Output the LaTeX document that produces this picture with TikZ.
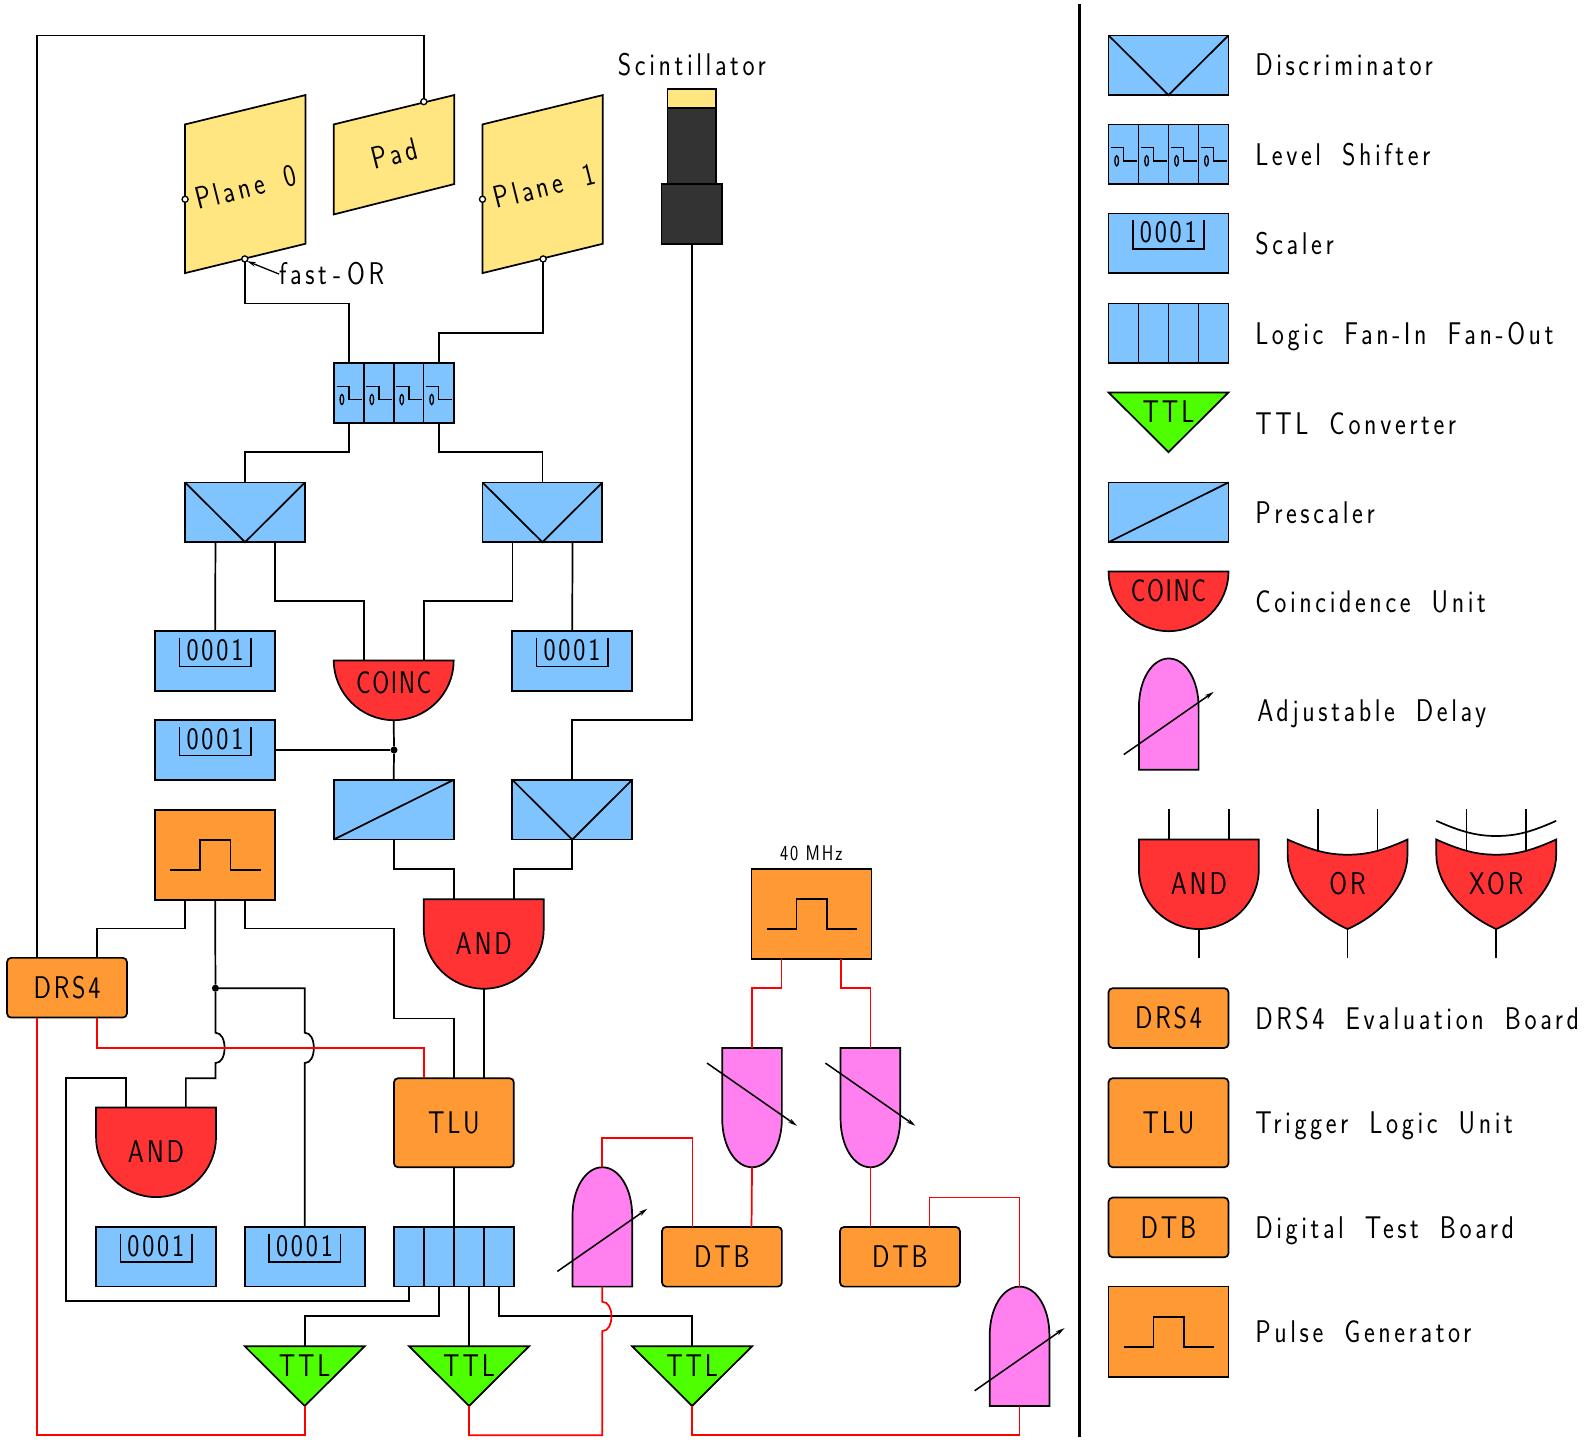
\documentclass[tikz,border=0pt]{standalone}
\usepackage{fontspec}
\usetikzlibrary{arrows.meta}
\newfontfamily\cadfont{Latin Modern Sans}[FakeStretch=0.82,LetterSpace=9]
\newfontfamily\cadlegfont{Latin Modern Sans}[FakeStretch=0.82,LetterSpace=11.5,WordSpace=1.8]
\newfontfamily\cadcoinc{Latin Modern Sans}[FakeStretch=0.78,LetterSpace=5]
\definecolor{mblue}{HTML}{80C4FF}
\definecolor{myellow}{HTML}{FFE680}
\definecolor{mred}{HTML}{FF3333}
\definecolor{morange}{HTML}{FF9933}
\definecolor{mpink}{HTML}{FF80EE}
\definecolor{mgreen}{HTML}{4DFF00}
\definecolor{mdark}{HTML}{333333}
\definecolor{wirered}{HTML}{FF0000}
\tikzset{
  sig/.style={line width=1.7pt,draw=black,line join=miter},
  rsig/.style={line width=1.7pt,draw=wirered,line join=miter},
  part/.style 2 args={draw=black,line width=1.7pt,inner sep=0pt,outer sep=0pt,anchor=north west,minimum width=#1pt,minimum height=#2pt},
  bluebox/.style 2 args={part={#1}{#2},fill=mblue},
  orangebox/.style 2 args={part={#1}{#2},fill=morange,font=\cad,text height=21pt,text depth=0pt},
  roundbox/.style 2 args={orangebox={#1}{#2},rounded corners=4pt},
  ghost/.style 2 args={part={#1}{#2},draw=none,font=\cad,text height=21pt,text depth=0pt},
  lbl/.style={inner sep=0pt,outer sep=0pt,font=\cad,text height=21pt,text depth=0pt},
  leg/.style={lbl,anchor=west,font=\cadleg},
  smalllbl/.style={inner sep=0pt,outer sep=0pt,font=\cadsmall},
  port/.style={circle,draw=black,fill=white,line width=1.3pt,inner sep=0pt,minimum size=6pt,outer sep=0pt},
  dot/.style={circle,fill=black,inner sep=0pt,minimum size=7pt,outer sep=0pt},
  adj/.style={line width=1.5pt,-{Stealth[length=9pt,width=4.5pt]}},
}
\newcommand\cad{\cadfont\fontsize{31}{31}\selectfont}
\newcommand\cadleg{\cadlegfont\fontsize{31}{31}\selectfont}
\newcommand\cadco{\cadcoinc\fontsize{31}{31}\selectfont}
\newcommand\cadsmall{\cadfont\fontsize{21}{21}\selectfont}
\newcommand\Disc[3]{\node[bluebox={118.5}{59}] (#1) at (#2,#3) {};
  \draw[sig] (#1.north west) -- (#1.south) -- (#1.north east);}
\newcommand\Presc[3]{\node[bluebox={118.5}{59}] (#1) at (#2,#3) {};
  \draw[sig] (#1.south west) -- (#1.north east);}
\newcommand\Cells[3]{\node[bluebox={118.5}{59}] (#1) at (#2,#3) {};
  \foreach \k in {1,2,3} {\draw[sig] (#2+\k*29.6,#3) -- (#2+\k*29.6,#3+59);}}
\newcommand\Shifter[3]{\Cells{#1}{#2}{#3}
  \foreach \k in {0,1,2,3} {\begin{scope}[shift={(#2+\k*29.6,#3)}]
    \draw[line width=1.4pt] (2.7,23) -- (15,23) -- (15,36) -- (28,36);
    \draw[line width=1.3pt] (8,36) ellipse (1.8 and 5);
  \end{scope}}}
\newcommand\Scaler[3]{\node[bluebox={118.5}{59}] (#1) at (#2,#3) {};
  \begin{scope}[shift={(#2,#3)}]
    \draw[sig] (24,6.5) -- (24,35) -- (94.5,35) -- (94.5,6.5);
    \node[lbl] (#1t) at (59,18.5) {0001};
  \end{scope}}
\newcommand\Pulse[3]{\node[orangebox={118.5}{89}] (#1) at (#2,#3) {};
  \begin{scope}[shift={(#2,#3)}]
    \draw[sig] (15,59.5) -- (44.5,59.5) -- (44.5,30) -- (74.5,30) -- (74.5,59.5) -- (104.5,59.5);
  \end{scope}}
\newcommand\AndG[4]{\begin{scope}[shift={(#2,#3)}]
    \draw[sig,fill=mred] (0,0) -- (118.5,0) -- (118.5,29.5) .. controls (118.5,62) and (92,88.5) .. (59.25,88.5) .. controls (27,88.5) and (0,62) .. (0,29.5) -- cycle;
  \end{scope}
  \node[ghost={118.5}{88.5}] (#1) at (#2,#3) {#4};}
\newcommand\OrShape{(0,0) .. controls (25,11) and (40,15) .. (59.25,15) .. controls (79,15) and (94,11) .. (118.5,0) -- (118.5,15) .. controls (118.5,45) and (92,74) .. (59.25,88.5) .. controls (27,74) and (0,45) .. (0,15) -- cycle}
\newcommand\OrG[4]{\begin{scope}[shift={(#2,#3)}]
    \draw[sig,fill=mred] \OrShape;
  \end{scope}
  \node[ghost={118.5}{88.5}] (#1) at (#2,#3) {#4};}
\newcommand\Coinc[5]{\begin{scope}[shift={(#2,#3)}]
    \draw[sig,fill=mred] (0,0) -- (118.5,0) .. controls (118.5,32.5) and (92,59) .. (59.25,59) .. controls (27,59) and (0,32.5) .. (0,0) -- cycle;
  \end{scope}
  \node[ghost={118.5}{59}] (#1) at (#2,#3) {};
  \node[lbl,font=\cadco] (#1t) at (#2+59.25,#3+#4) {#5};}
\newcommand\Ttl[3]{\begin{scope}[shift={(#2,#3)}]
    \draw[sig,fill=mgreen] (0,0) -- (118.5,0) -- (59.25,59) -- cycle;
  \end{scope}
  \node[ghost={118.5}{59}] (#1) at (#2,#3) {};
  \node[lbl] (#1t) at (#2+59.25,#3+19) {TTL};}
% name, x, y, height
\newcommand\DelayUp[4]{\begin{scope}[shift={(#2,#3)}]
    \draw[sig,fill=mpink] (0,#4) -- (0,48) .. controls (0,21) and (13,0) .. (29.5,0) .. controls (46,0) and (59,21) .. (59,48) -- (59,#4) -- cycle;
    \draw[adj] (-15,#4-15) -- (74,#4-77);
  \end{scope}
  \node[ghost={59}{#4}] (#1) at (#2,#3) {};}
\newcommand\DelayDown[4]{\begin{scope}[shift={(#2,#3)}]
    \draw[sig,fill=mpink] (0,0) -- (0,#4-48) .. controls (0,#4-21) and (13,#4) .. (29.5,#4) .. controls (46,#4) and (59,#4-21) .. (59,#4-48) -- (59,0) -- cycle;
    \draw[adj] (-15,15) -- (74,77);
  \end{scope}
  \node[ghost={59}{#4}] (#1) at (#2,#3) {};}
\begin{document}
\begin{tikzpicture}[x=1pt,y=-1pt]
\useasboundingbox[fill=white] (0,0) rectangle (1568,1423.6);
% detectors
\draw[sig,fill=myellow] (183,123) -- (302,94) -- (302,241) -- (183,270) -- cycle;
\draw[sig,fill=myellow] (330,123) -- (449,94) -- (449,182) -- (330,212) -- cycle;
\draw[sig,fill=myellow] (477,123) -- (596,94) -- (596,241) -- (477,270) -- cycle;
\node[leg,anchor=center,rotate=14] (PL0) at (243,185) {Plane 0};
\node[leg,anchor=center,rotate=14] (PAD) at (390,152) {Pad};
\node[leg,anchor=center,rotate=14] (PL1) at (538,184) {Plane 1};
\node[part={48}{19},fill=myellow] (ST) at (660,88) {};
\node[part={48}{75},fill=mdark] (SB) at (660,107) {};
\node[part={60}{59},fill=mdark] (PMT) at (654,182) {};
\node[leg,anchor=center] (SL) at (684,64) {Scintillator};
% blocks
\Shifter{LS}{330}{359}
\Disc{D0}{183}{477}
\Disc{D1}{477}{477}
\Scaler{S0}{153.5}{624}
\Scaler{S1}{506.5}{624}
\Coinc{CO}{330}{653}{22}{COINC}
\Scaler{S2}{153.5}{712}
\Presc{P0}{330}{771}
\Disc{D2}{506.5}{771}
\Pulse{PG1}{153.5}{800.5}
\AndG{A1}{419}{889}{AND}
\node[roundbox={118.5}{59}] (DRS) at (7,947) {DRS4};
\AndG{A2}{95}{1095}{AND}
\node[roundbox={118.5}{88}] (TLU) at (389.5,1066) {TLU};
\Scaler{S3}{95}{1213}
\Scaler{S4}{242}{1213}
\Cells{FO}{389.5}{1213}
\Ttl{T0}{242}{1331}
\Ttl{T1}{404.5}{1331}
\Ttl{T2}{625}{1331}
\DelayUp{DL0}{566}{1154}{118}
\DelayDown{DL1}{714}{1036}{118}
\DelayDown{DL2}{831}{1036}{118}
\DelayUp{DL3}{978.5}{1272}{118}
\node[roundbox={118.5}{59}] (DTB0) at (654.5,1213) {DTB};
\node[roundbox={118.5}{59}] (DTB1) at (830.5,1213) {DTB};
\Pulse{PG2}{743}{859}
\node[smalllbl] (MHZ) at (802,844) {40 MHz};
% ports
\node[port] (p0l) at (183,197) {};
\node[port] (p0b) at (242,256) {};
\node[port] (p1l) at (477,197) {};
\node[port] (p1b) at (537,256) {};
\node[port] (pd) at (419,100.5) {};
\node[dot] (dotA) at (213,977) {};
\node[dot] (dotB) at (389.5,741.5) {};
% black wires
\draw[sig] (p0b.south) -- (242,300) -- (345,300) -- ([xshift=-44.25pt]LS.north);
\draw[sig] (p1b.south) -- (537,329) -- (434,329) -- ([xshift=44.75pt]LS.north);
\draw[sig] ([xshift=-44.25pt]LS.south) -- (345,447) -- (242.25,447) -- (D0.north);
\draw[sig] ([xshift=44.75pt]LS.south) -- (434,447) -- (536.25,447) -- (D1.north);
\draw[sig] ([xshift=-29.25pt]D0.south) -- (S0.north);
\draw[sig] ([xshift=29.75pt]D1.south) -- (S1.north);
\draw[sig] ([xshift=29.5pt]D0.south) -- (271.75,594) -- (360,594) -- ([xshift=-29.25pt]CO.north);
\draw[sig] ([xshift=-29.5pt]D1.south) -- (506.75,594) -- (419,594) -- ([xshift=29.75pt]CO.north);
\draw[sig] (CO.south) -- (dotB.north);
\draw[sig] (dotB.south) -- (P0.north);
\draw[sig] (S2.east |- dotB) -- (dotB.west);
\draw[sig] (PMT.south) -- (684,712) -- (565.75,712) -- (D2.north);
\draw[sig] (P0.south) -- (389.25,859) -- (449,859) -- ([xshift=-29.25pt]A1.north);
\draw[sig] (D2.south) -- (565.75,859) -- (508,859) -- ([xshift=29.75pt]A1.north);
\draw[sig] (A1.south) -- ([xshift=29.5pt]TLU.north);
\draw[sig] ([xshift=-29.5pt]PG1.south) -- (183.25,918) -- (96,918) -- ([xshift=29.75pt]DRS.north);
\draw[sig] ([xshift=29.5pt]PG1.south) -- (242.25,918) -- (389.5,918) -- (389.5,1007) -- (448.75,1007) -- (TLU.north);
\draw[sig] (PG1.south) -- (dotA.north);
\draw[sig] (dotA.south) -- (213,1021) .. controls (219,1021) and (222,1028) .. (222,1036) .. controls (222,1044) and (219,1051) .. (213,1051) -- (213,1066) -- (183.75,1066) -- ([xshift=29.5pt]A2.north);
\draw[sig] (dotA.east) -- (301.25,977) -- (301.25,1021) .. controls (307.25,1021) and (310.25,1028) .. (310.25,1036) .. controls (310.25,1044) and (307.25,1051) .. (301.25,1051) -- (S4.north);
\draw[sig] ([xshift=-29.5pt]A2.north) -- (124.75,1066) -- (65,1066) -- (65,1286) -- (404.5,1286) -- ([xshift=-44.25pt]FO.south);
\draw[sig] (TLU.south) -- (FO.north);
\draw[sig] ([xshift=-15pt]FO.south) -- (433.75,1301) -- (301.25,1301) -- (T0.north);
\draw[sig] ([xshift=15pt]FO.south) -- (T1.north);
\draw[sig] ([xshift=44.5pt]FO.south) -- (493.25,1301) -- (684.25,1301) -- (T2.north);
\draw[sig] ([xshift=-29.5pt]DRS.north) -- (36.75,35) -- (419,35) -- (pd.north);
% fast-OR
\node[leg] (FOR) at (276,271) {fast\kern6pt-\kern6pt OR};
\draw[line width=1.3pt,-{Stealth[length=9pt,width=4.5pt]}] (FOR.west) -- (p0b.south east);
% red wires
\draw[rsig] ([xshift=-29.5pt]DRS.south) -- (36.75,1419) -- (301.25,1419) -- (T0.south);
\draw[rsig] ([xshift=29.5pt]DRS.south) -- (95.75,1036) -- (419.25,1036) -- ([xshift=-29.5pt]TLU.north);
\draw[rsig] ([xshift=-29.5pt]PG2.south) -- (772.75,977) -- (743.5,977) -- (DL1.north);
\draw[rsig] ([xshift=29.5pt]PG2.south) -- (831.75,977) -- (860.5,977) -- (DL2.north);
\draw[rsig] (DL1.south) -- ([xshift=29.25pt]DTB0.north);
\draw[rsig] (DL2.south) -- ([xshift=-29.25pt]DTB1.north);
\draw[rsig] ([xshift=-29.25pt]DTB0.north) -- (684.5,1125) -- (595.5,1125) -- (DL0.north);
\draw[rsig] ([xshift=29.25pt]DTB1.north) -- (919,1184) -- (1008,1184) -- (DL3.north);
\draw[rsig] (DL0.south) -- (595.5,1287) .. controls (601.5,1287) and (604.5,1294) .. (604.5,1301.5) .. controls (604.5,1309) and (601.5,1316) .. (595.5,1316) -- (595.5,1419) -- (463.75,1419) -- (T1.south);
\draw[rsig] (DL3.south) -- (1008,1419) -- (684.25,1419) -- (T2.south);
% separator
\coordinate (sepT) at (1067,4);
\coordinate (sepB) at (1067,1421);
\draw[line width=3.2pt] (sepT) -- (sepB);
% legend
\Disc{LA}{1096}{35}
\node[leg] (LAt) at (1241,64) {Discriminator};
\Shifter{LB}{1096}{123}
\node[leg] (LBt) at (1241,153) {Level Shifter};
\Scaler{LC}{1096}{211}
\node[leg] (LCt) at (1241,241) {Scaler};
\Cells{LD}{1096}{300}
\node[leg] (LDt) at (1241,330) {Logic Fan-In Fan-Out};
\Ttl{LE}{1096}{388}
\node[leg] (LEt) at (1241,419) {TTL Converter};
\Presc{LF}{1096}{477}
\node[leg] (LFt) at (1241,507) {Prescaler};
\Coinc{LG}{1096}{565}{19}{COINC}
\node[leg] (LGt) at (1241,595) {Coincidence Unit};
\DelayUp{LH}{1126}{651}{110}
\node[leg] (LHt) at (1243,703) {Adjustable Delay};
\AndG{LI}{1126}{830}{AND}
\draw[sig] ([xshift=-29.5pt,yshift=30pt]LI.north) -- ([xshift=-29.5pt]LI.north);
\draw[sig] ([xshift=29.5pt,yshift=30pt]LI.north) -- ([xshift=29.5pt]LI.north);
\draw[sig] (LI.south) -- ([yshift=-29pt]LI.south);
\OrG{LJ}{1273}{830}{OR}
\draw[sig] ([xshift=-29.5pt,yshift=30pt]LJ.north) -- ([xshift=-29.5pt,yshift=-12.5pt]LJ.north);
\draw[sig] ([xshift=29.5pt,yshift=30pt]LJ.north) -- ([xshift=29.5pt,yshift=-12.5pt]LJ.north);
\draw[sig] (LJ.south) -- ([yshift=-29pt]LJ.south);
\OrG{LK}{1420}{830}{XOR}
\draw[sig] ([xshift=-29.5pt,yshift=30pt]LK.north) -- ([xshift=-29.5pt,yshift=-12.5pt]LK.north);
\draw[sig] ([xshift=29.5pt,yshift=30pt]LK.north) -- ([xshift=29.5pt,yshift=-12.5pt]LK.north);
\draw[sig] (LK.south) -- ([yshift=-29pt]LK.south);
\begin{scope}[shift={(1420,811.5)}]
  \draw[sig] (0,0) .. controls (25,11) and (40,15) .. (59.25,15) .. controls (79,15) and (94,11) .. (118.5,0);
\end{scope}
\node[roundbox={118.5}{59}] (LL) at (1096,977) {DRS4};
\node[leg] (LLt) at (1241,1007) {DRS4 Evaluation Board};
\node[roundbox={118.5}{88}] (LM) at (1096,1066) {TLU};
\node[leg] (LMt) at (1241,1110) {Trigger Logic Unit};
\node[roundbox={118.5}{59}] (LN) at (1096,1184) {DTB};
\node[leg] (LNt) at (1241,1214) {Digital Test Board};
\Pulse{LO}{1096}{1272}
\node[leg] (LOt) at (1241,1317) {Pulse Generator};
\end{tikzpicture}
\end{document}
